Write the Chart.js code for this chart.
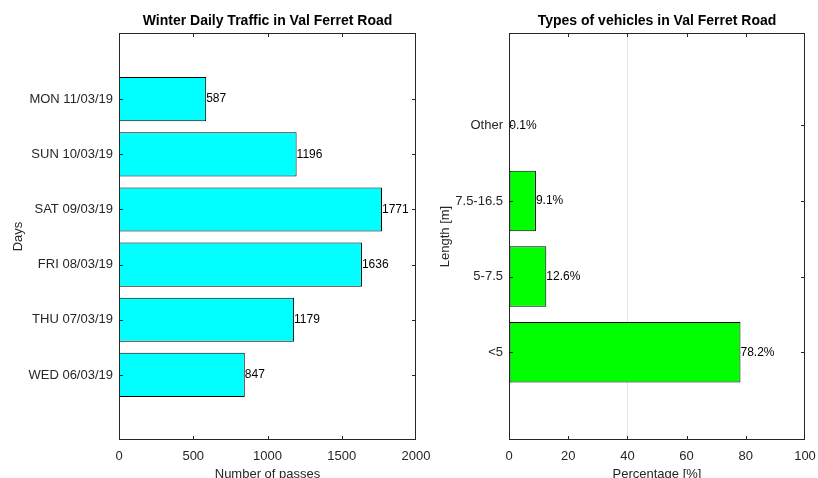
<!DOCTYPE html>
<html>
<head>
<meta charset="utf-8">
<script src="https://cdn.jsdelivr.net/npm/chart.js@4"></script>
<style>
  html, body { margin: 0; padding: 0; background: #fff; }
  #wrap { position: relative; width: 818px; height: 478px; overflow: hidden; }
  .pane { position: absolute; top: 0; height: 478px; }
  #pane-days { left: 0; width: 440px; }
  #pane-types { left: 420px; width: 398px; }
</style>
</head>
<body>
<div id="wrap">
  <div class="pane" id="pane-days"><canvas id="days-chart"></canvas></div>
  <div class="pane" id="pane-types"><canvas id="types-chart"></canvas></div>
</div>
<script>
/* ===== Val Ferret Road traffic ===== */

// left panel: passes per day (bottom to top)
const dayLabels = ['WED 06/03/19', 'THU 07/03/19', 'FRI 08/03/19', 'SAT 09/03/19', 'SUN 10/03/19', 'MON 11/03/19'];
const dayPasses = [847, 1179, 1636, 1771, 1196, 587];
const passTicks = [0, 500, 1000, 1500, 2000];

// right panel: vehicle length classes (bottom to top)
const lengthLabels = ['<5', '5-7.5', '7.5-16.5', 'Other'];
const lengthShares = [78.2, 12.6, 9.1, 0.1];
const shareTicks = [0, 20, 40, 60, 80, 100];

const INK = '#262626';
const FONT = '"Liberation Sans", Arial, sans-serif';

/** Plot box, inward tick marks on all four sides, and title over the plot area */
const axesBox = {
  id: 'axesBox',
  afterDraw(chart, args, opts) {
    const { ctx, chartArea: a, scales } = chart;
    const len = 4;
    const clamp = (v, lo, hi) => Math.max(lo, Math.min(hi, v));
    ctx.save();
    ctx.strokeStyle = INK;
    ctx.lineWidth = 1;
    ctx.strokeRect(a.left + 0.5, a.top + 0.5, a.right - a.left - 1, a.bottom - a.top - 1);
    ctx.beginPath();
    scales.x.ticks.forEach(t => {
      const px = clamp(Math.round(scales.x.getPixelForValue(t.value)) + 0.5, a.left + 0.5, a.right - 0.5);
      ctx.moveTo(px, a.bottom); ctx.lineTo(px, a.bottom - len);
      ctx.moveTo(px, a.top);    ctx.lineTo(px, a.top + len);
    });
    scales.y.ticks.forEach(t => {
      const py = Math.round(scales.y.getPixelForValue(t.value)) + 0.5;
      ctx.moveTo(a.left, py);  ctx.lineTo(a.left + len, py);
      ctx.moveTo(a.right, py); ctx.lineTo(a.right - len, py);
    });
    ctx.stroke();
    ctx.fillStyle = '#000';
    ctx.font = 'bold 14px ' + FONT;
    ctx.textAlign = 'center';
    ctx.textBaseline = 'middle';
    ctx.fillText(opts.text, (a.left + a.right) / 2, 21);
    ctx.restore();
  }
};

/** Value label just right of each bar end */
const barValues = {
  id: 'barValues',
  afterDatasetsDraw(chart, args, opts) {
    const { ctx } = chart;
    const meta = chart.getDatasetMeta(0);
    const data = chart.data.datasets[0].data;
    ctx.save();
    ctx.font = '12px ' + FONT;
    ctx.fillStyle = '#000';
    ctx.textAlign = 'left';
    ctx.textBaseline = 'middle';
    meta.data.forEach((bar, i) => {
      ctx.fillText(data[i].x.toFixed(opts.decimals) + opts.suffix, bar.x, bar.y);
    });
    ctx.restore();
  }
};

function makeBarh(canvasId, cfg) {
  const ctx = document.getElementById(canvasId).getContext('2d');
  return new Chart(ctx, {
    type: 'bar',
    data: {
      datasets: [{
        data: cfg.values.map((v, i) => ({ x: v, y: i + 1 })),
        backgroundColor: cfg.color,
        borderColor: '#000',
        borderWidth: 1,
        borderSkipped: false,
        categoryPercentage: 1,
        barPercentage: 0.8
      }]
    },
    options: {
      indexAxis: 'y',
      responsive: true,
      maintainAspectRatio: false,
      animation: false,
      layout: { padding: { top: 33, right: cfg.padRight, bottom: 0, left: 0 } },
      plugins: {
        legend: { display: false },
        tooltip: { enabled: false },
        axesBox: { text: cfg.title },
        barValues: { decimals: cfg.decimals, suffix: cfg.suffix }
      },
      scales: {
        x: {
          type: 'linear',
          min: cfg.xTicks[0],
          max: cfg.xTicks[cfg.xTicks.length - 1],
          afterBuildTicks: s => { s.ticks = cfg.xTicks.map(v => ({ value: v })); },
          afterFit: s => { s.height = 38; s.paddingLeft = 0; s.paddingRight = 0; },
          grid: {
            display: cfg.gridAt !== null,
            drawTicks: false,
            color: c => (c.tick && c.tick.value === cfg.gridAt) ? '#e3e3e3' : 'rgba(0,0,0,0)'
          },
          border: { display: false },
          ticks: {
            color: INK, font: { size: 13, family: FONT }, padding: 9, maxRotation: 0,
            callback: v => String(v)
          },
          title: { display: true, text: cfg.xTitle, color: INK, font: { size: 13, family: FONT }, padding: { top: 0, bottom: -4 } }
        },
        y: {
          type: 'linear',
          offset: false,
          min: cfg.yRange[0],
          max: cfg.yRange[1],
          afterBuildTicks: s => { s.ticks = cfg.labels.map((_, i) => ({ value: i + 1 })); },
          afterFit: s => { s.width = cfg.yWidth; },
          grid: { display: false, drawTicks: false, offset: false },
          border: { display: false },
          ticks: {
            color: INK,
            font: { size: 13, family: FONT },
            padding: 6,
            callback: v => cfg.labels[v - 1]
          },
          title: { display: true, text: cfg.yTitle, color: INK, font: { size: 13, family: FONT }, padding: { top: cfg.yTitlePad, bottom: 0 } }
        }
      }
    },
    plugins: [axesBox, barValues]
  });
}

makeBarh('days-chart', {
  labels: dayLabels, values: dayPasses, color: '#00ffff',
  xTicks: passTicks, yRange: [-0.18, 7.2], yWidth: 119, padRight: 24,
  title: 'Winter Daily Traffic in Val Ferret Road',
  xTitle: 'Number of passes', yTitle: 'Days', yTitlePad: 11,
  decimals: 0, suffix: '', gridAt: null
});

makeBarh('types-chart', {
  labels: lengthLabels, values: lengthShares, color: '#00ff00',
  xTicks: shareTicks, yRange: [-0.16, 5.22], yWidth: 89, padRight: 13,
  title: 'Types of vehicles in Val Ferret Road',
  xTitle: 'Percentage [%]', yTitle: 'Length [m]', yTitlePad: 18,
  decimals: 1, suffix: '%', gridAt: 40
});
</script>
</body>
</html>
